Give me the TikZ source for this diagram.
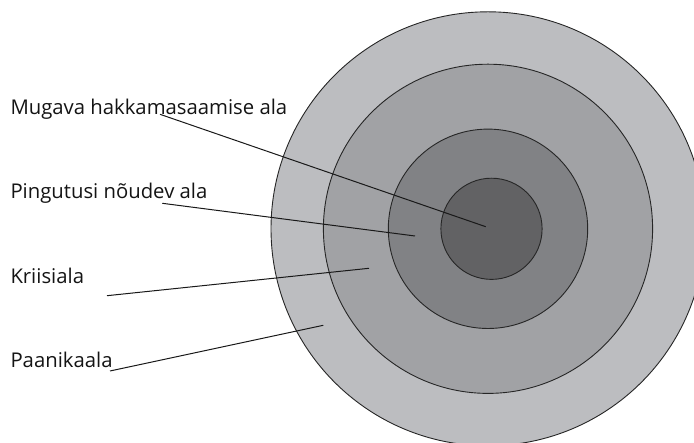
\documentclass[tikz,border=0pt]{standalone}
\usepackage{fontspec}
\setmainfont{Open Sans}
\definecolor{ringA}{RGB}{188,189,192}
\definecolor{ringB}{RGB}{161,162,165}
\definecolor{ringC}{RGB}{129,130,133}
\definecolor{ringD}{RGB}{98,98,100}
\begin{document}
\begin{tikzpicture}[x=1pt,y=1pt,line join=round,
  every node/.style={inner sep=0pt,outer sep=0pt},
  ring/.style={draw=black!85,line width=0.9pt},
  pointer/.style={draw=black!90,line width=1pt},
  zonelabel/.style={anchor=base west,text=black!92,font=\fontsize{20.3pt}{23pt}\selectfont}]
  \path[use as bounding box] (0,0) rectangle (694,443);  % canvas 694x443px
  % ---- rings: fitted from ink edges ----
  \coordinate (O) at (488,214.2);
  \fill[ringA] (O) circle[radius=217];  \draw[ring] (O) circle[radius=217];
  \fill[ringB] (O) circle[radius=164.6];\draw[ring] (O) circle[radius=164.6];
  \fill[ringC] (O) circle[radius=99.7]; \draw[ring] (O) circle[radius=99.7];
  \coordinate (Oi) at (491.5,214.2);
  \fill[ringD] (Oi) circle[radius=50.6];\draw[ring] (Oi) circle[radius=50.6];
  % ---- labels: baseline y from source px ----
  \node[zonelabel] (mugava) at (10.5,328.7) {Mugava hakkamasaamise ala};
  \node[zonelabel] (pingutus) at (10.5,244.0) {Pingutusi nõudev ala};
  \node[zonelabel] (kriis) at (10.5,159.0) {Kriisiala};
  \node[zonelabel] (paanika) at (10.5,75.7) {Paanikaala};
  % ---- pointer end points ----
  \coordinate (m1) at (160.0,328.7);  \coordinate (m2) at (485.7,216.3);
  \coordinate (p1) at (162.3,239.7);  \coordinate (p2) at (415.0,207.0);
  \coordinate (k1) at (107.0,147.3);  \coordinate (k2) at (369.0,174.7);
  \coordinate (a1) at (110.0,72.0);   \coordinate (a2) at (323.3,117.7);
  \draw[pointer] (m1) -- (m2);
  \draw[pointer] (p1) -- (p2);
  \draw[pointer] (k1) -- (k2);
  \draw[pointer] (a1) -- (a2);
\end{tikzpicture}
\end{document}
